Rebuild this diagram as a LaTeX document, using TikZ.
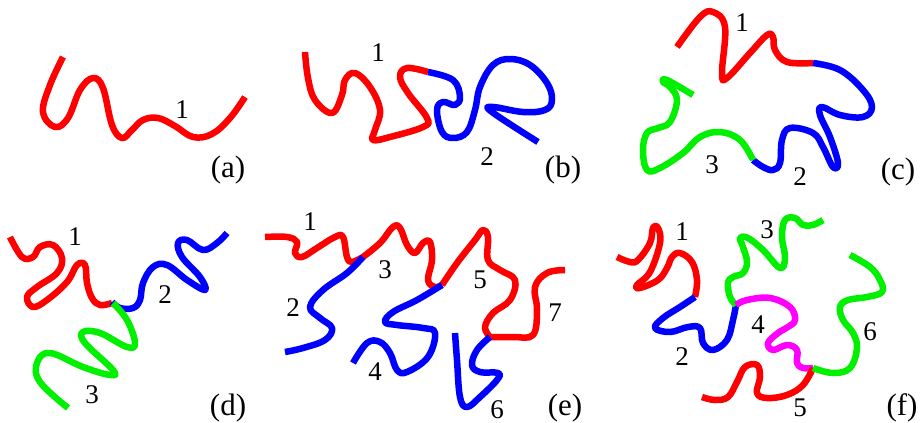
\documentclass[tikz,border=0pt]{standalone}
\usepackage{fontspec}
\setmainfont{Liberation Serif}
\definecolor{cred}{RGB}{255,0,0}
\definecolor{cblue}{RGB}{0,0,255}
\definecolor{cgreen}{RGB}{0,240,0}
\definecolor{cmag}{RGB}{255,0,255}
\tikzset{
  chain/.style={line width=6.5pt, line join=round, line cap=butt},
  lbl/.style={font=\fontsize{27}{27}\selectfont, inner sep=0pt, anchor=center},
  plab/.style={font=\fontsize{31}{31}\selectfont, inner sep=0pt, anchor=center},
}
\begin{document}
\begin{tikzpicture}[x=1pt,y=-1pt]
\useasboundingbox (0,0) rectangle (922,423);
% (a)
\draw[chain,cred] plot[smooth,tension=0.65] coordinates {(63,57) (50,85) (43,112) (55,127) (68,118) (80,90) (93,78) (103,88) (112,125) (122,138) (132,130) (143,120) (158,118) (175,126) (193,137) (212,134) (230,118) (245,97)};
\node[lbl] (a1) at (182,110) {1};
\node[plab] (pa) at (228,170) {(a)};
% (b)
\draw[chain,cred] plot[smooth,tension=0.65] coordinates {(305,52) (308,78) (315,100) (332,113) (342,95) (345,80) (355,73) (370,87) (380,110) (375,130) (373,140) (390,137) (423,127) (427,118) (408,93) (400,77) (407,68) (428,72)};
\draw[chain,cblue] plot[smooth,tension=0.65] coordinates {(428,72) (453,80) (460,97) (455,105) (443,102) (437,110) (442,132) (453,138) (467,132) (475,110) (480,87) (493,65) (510,59) (530,65) (547,83) (552,100) (545,110) (523,112) (493,107) (492,112) (538,142)};
\node[lbl] (b1) at (378,53) {1};
\node[lbl] (b2) at (487,157) {2};
\node[plab] (pb) at (563,170) {(b)};
% (c)
\draw[chain,cred] plot[smooth,tension=0.65] coordinates {(677,47) (700,17) (713,12) (725,27) (722,73) (727,78) (750,53) (767,35) (773,37) (775,50) (787,62) (813,63)};
\draw[chain,cblue] plot[smooth,tension=0.65] coordinates {(813,63) (840,70) (863,90) (872,107) (863,117) (840,115) (822,107) (820,115) (830,137) (838,163) (833,167) (823,147) (813,133) (790,128) (782,140) (780,163) (773,170) (763,167) (753,160)};
\draw[chain,cgreen] plot[smooth,tension=0.65] coordinates {(753,160) (740,140) (720,132) (700,137) (683,153) (660,168) (647,170) (643,150) (647,133) (658,128) (670,122) (677,100) (670,87) (663,82) (667,80) (693,95)};
\node[lbl] (c1) at (742,23) {1};
\node[lbl] (c2) at (800,177) {2};
\node[lbl] (c3) at (712,165) {3};
\node[plab] (pc) at (898,172) {(c)};
% (d)
\draw[chain,cred] plot[smooth,tension=0.65] coordinates {(10,237) (22,257) (33,257) (40,247) (53,245) (62,258) (57,273) (37,287) (27,297) (33,307) (47,300) (67,282) (77,265) (85,265) (87,283) (92,298) (100,305) (112,303)};
\draw[chain,cblue] plot[smooth,tension=0.65] coordinates {(112,302) (120,308) (133,308) (140,300) (143,283) (153,267) (167,265) (187,280) (205,290) (200,277) (182,257) (178,243) (187,240) (203,250) (217,243) (227,233)};
\draw[chain,cgreen] plot[smooth,tension=0.65] coordinates {(113,303) (127,320) (135,343) (127,347) (100,333) (83,332) (85,343) (113,370) (110,375) (83,367) (50,353) (37,363) (40,382) (68,408)};
\node[lbl] (d1) at (75,237) {1};
\node[lbl] (d2) at (165,295) {2};
\node[lbl] (d3) at (92,395) {3};
\node[plab] (pd) at (228,408) {(d)};
% (e)
\draw[chain,cred] plot[smooth,tension=0.65] coordinates {(265,237) (287,237) (297,242) (295,253) (302,257) (317,248) (335,237) (343,237) (347,257) (352,262) (363,257)};
\draw[chain,cred] plot[smooth,tension=0.65] coordinates {(363,257) (380,243) (393,227) (400,228) (407,245) (415,253) (423,243) (430,242) (432,260) (428,280) (435,287) (442,285)};
\draw[chain,cred] plot[smooth,tension=0.65] coordinates {(442,285) (457,263) (475,240) (483,230) (488,237) (488,260) (500,270) (515,280) (510,300) (493,313) (485,327) (490,337)};
\draw[chain,cred] plot[smooth,tension=0.65] coordinates {(490,337) (513,337) (533,335) (537,310) (535,287) (547,273) (565,270)};
\draw[chain,cblue] plot[smooth,tension=0.65] coordinates {(363,257) (347,273) (323,290) (310,307) (320,318) (332,328) (325,340) (303,348) (285,352)};
\draw[chain,cblue] plot[smooth,tension=0.65] coordinates {(442,285) (417,300) (393,312) (385,322) (397,325) (423,328) (435,333) (428,357) (407,372) (397,370) (390,353) (380,342) (367,343) (353,363)};
\draw[chain,cblue] plot[smooth,tension=0.65] coordinates {(490,337) (477,350) (472,365) (480,372) (498,373) (497,380) (480,397) (467,407) (460,397) (457,360) (455,333)};
\node[lbl] (e1) at (310,222) {1};
\node[lbl] (e2) at (293,308) {2};
\node[lbl] (e3) at (385,270) {3};
\node[lbl] (e4) at (375,372) {4};
\node[lbl] (e5) at (480,280) {5};
\node[lbl] (e6) at (497,410) {6};
\node[lbl] (e7) at (555,313) {7};
\node[plab] (pe) at (565,408) {(e)};
% (f)
\draw[chain,cred] plot[smooth,tension=0.65] coordinates {(617,257) (630,262) (638,260) (650,243) (653,228) (658,228) (660,243) (650,272) (637,285) (640,288) (658,280) (667,268) (672,257) (680,253) (692,262) (697,280) (695,297)};
\draw[chain,cblue] plot[smooth,tension=0.65] coordinates {(695,297) (680,307) (663,318) (655,328) (670,332) (688,327) (700,328) (703,343) (713,350) (727,340) (733,320) (736,305)};
\draw[chain,cgreen] plot[smooth,tension=0.65] coordinates {(736,305) (730,297) (728,283) (733,277) (743,273) (747,262) (743,247) (740,238) (748,238) (763,250) (780,268) (785,258) (782,237) (785,220) (795,218) (803,225) (813,225) (823,220)};
\draw[chain,cmag] plot[smooth,tension=0.65] coordinates {(736,305) (747,300) (770,298) (790,307) (795,320) (788,327) (778,333) (768,343) (773,350) (787,345) (797,350) (797,363) (803,368) (813,368)};
\draw[chain,cred] plot[smooth,tension=0.65] coordinates {(813,368) (803,385) (787,395) (767,398) (757,393) (760,377) (757,365) (745,367) (737,382) (728,397) (715,400) (702,397)};
\draw[chain,cgreen] plot[smooth,tension=0.65] coordinates {(813,368) (833,373) (850,368) (857,348) (853,333) (843,320) (840,307) (848,300) (867,297) (882,292) (880,280) (870,267) (850,255)};
\node[lbl] (f1) at (682,232) {1};
\node[lbl] (f2) at (682,357) {2};
\node[lbl] (f3) at (767,230) {3};
\node[lbl] (f4) at (758,325) {4};
\node[lbl] (f5) at (800,408) {5};
\node[lbl] (f6) at (870,332) {6};
\node[plab] (pf) at (902,408) {(f)};
\end{tikzpicture}
\end{document}
